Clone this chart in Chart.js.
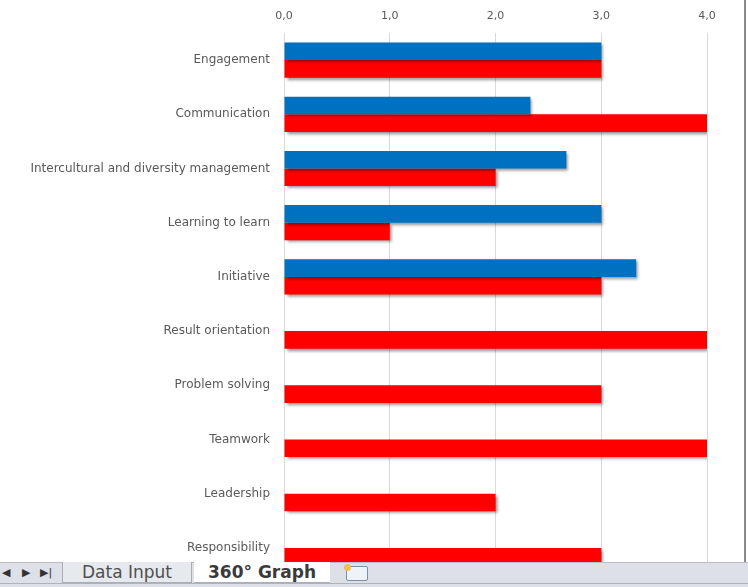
<!DOCTYPE html>
<html>
<head>
<meta charset="utf-8">
<script src="https://cdn.jsdelivr.net/npm/chart.js@4/dist/chart.umd.min.js"></script>
<style>
  html, body { margin: 0; padding: 0; background: #fff; }
  #wrap { position: relative; width: 748px; height: 587px; overflow: hidden; background: #fff; }
  #chartBox { position: absolute; left: 0; top: 0; width: 748px; height: 592px; }
  #rightEdge { position: absolute; left: 744px; top: 0; width: 2px; height: 562px; background: #8a8a8a; }
  #tabs {
    position: absolute; left: 0; top: 562px; width: 748px; height: 25px;
    background: #dde1e7; border-top: 1px solid #b9bec6;
    font-family: "DejaVu Sans", sans-serif; color: #4b4b4b;
  }
  #tabs .bottomline { position: absolute; left: 0; top: 20px; width: 748px; height: 1px; background: #aeb3bb; }
  #tabs .nav { position: absolute; top: 3px; font-size: 11px; color: #333; }
  #tabs .tab {
    position: absolute; top: -1px; height: 21px; line-height: 21px; font-size: 17px;
    box-sizing: border-box; text-align: center; white-space: nowrap;
  }
  #tabs .t1 { left: 62px; width: 130px; background: #e6e9ee; border: 1px solid #a9aeb6; border-top: none; color: #505050; }
  #tabs .t2 { left: 194px; width: 136px; background: #fff; font-weight: bold; color: #3a3a3a; border-bottom: 1px solid #a9aeb6; }
  #tabs .icon { position: absolute; left: 346px; top: 3px; width: 20px; height: 13px; border: 1px solid #7b8fa8; background: #eef3fa; border-radius: 2px; }
  #tabs .spark { position: absolute; left: 344px; top: 1px; width: 7px; height: 7px; background: #f2c14e; border-radius: 50%; }
</style>
</head>
<body>
<div id="wrap">
  <div id="chartBox"><canvas id="c"></canvas></div>
  <div id="rightEdge"></div>
  <div id="tabs">
    <div class="bottomline"></div>
    <span class="nav" style="left:2px">&#9664;</span>
    <span class="nav" style="left:22px">&#9654;</span>
    <span class="nav" style="left:40px">&#9654;|</span>
    <div class="tab t1">Data Input</div>
    <div class="tab t2">360° Graph</div>
    <div class="icon"></div>
    <div class="spark"></div>
  </div>
</div>
<script>
// --- Datos ---
const CATEGORIES = [
  'Engagement', 'Communication', 'Intercultural and diversity management',
  'Learning to learn', 'Initiative', 'Result orientation', 'Problem solving',
  'Teamwork', 'Leadership', 'Responsibility'
];
const BLUE_VALUES = [3.0, 2.33, 2.67, 3.0, 3.33, null, null, null, null, null];
const RED_VALUES  = [3.0, 4.0, 2.0, 1.0, 3.0, 4.0, 3.0, 4.0, 2.0, 3.0];
const X_TICKS = [0, 1, 2, 3, 4];

// sombra tipo Excel en las barras
const barShadow = {
  id: 'barShadow',
  beforeDatasetsDraw(chart) {
    const ctx = chart.ctx;
    ctx.save();
    ctx.shadowColor = 'rgba(0,0,0,0.45)';
    ctx.shadowBlur = 3;
    ctx.shadowOffsetX = 2;
    ctx.shadowOffsetY = 2;
  },
  afterDatasetsDraw(chart) {
    chart.ctx.restore();
  }
};

new Chart(document.getElementById('c'), {
  type: 'bar',
  data: {
    labels: CATEGORIES,
    datasets: [
      { label: 'Series 1', data: BLUE_VALUES, backgroundColor: '#0070c0' },
      { label: 'Series 2', data: RED_VALUES, backgroundColor: '#ff0000' }
    ]
  },
  options: {
    indexAxis: 'y',
    responsive: true,
    maintainAspectRatio: false,
    animation: false,
    categoryPercentage: 0.65,
    barPercentage: 1.0,
    layout: { padding: { left: 0, right: 41, top: 0, bottom: 17 } },
    plugins: { legend: { display: false }, tooltip: { enabled: false } },
    scales: {
      x: {
        position: 'top',
        min: 0, max: 4,
        afterBuildTicks: (s) => { s.ticks = X_TICKS.map(v => ({ value: v })); },
        afterFit: (s) => { s.height = 33; },
        grid: { color: '#d9d9d9', drawTicks: false },
        border: { display: false },
        ticks: {
          padding: 10,
          color: '#595959',
          font: { family: 'DejaVu Sans', size: 11 },
          callback: (v) => v.toFixed(1).replace('.', ',')
        }
      },
      y: {
        afterFit: (s) => { s.width = 284; },
        grid: { display: false },
        border: { display: true, color: '#d9d9d9' },
        ticks: {
          padding: 6,
          color: '#595959',
          font: { family: 'DejaVu Sans', size: 12 }
        }
      }
    }
  },
  plugins: [barShadow]
});
</script>
</body>
</html>
